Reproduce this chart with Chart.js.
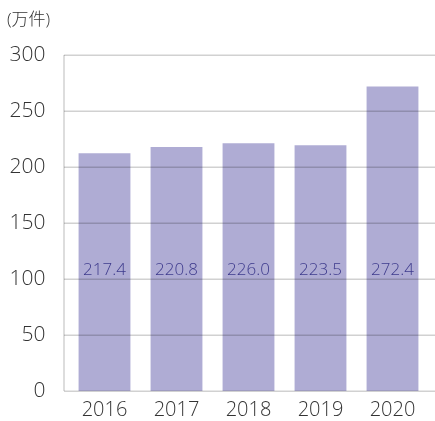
<!DOCTYPE html>
<html><head><meta charset="utf-8">
<script src="https://cdn.jsdelivr.net/npm/chart.js@4/dist/chart.umd.min.js"></script>
<style>html,body{margin:0;padding:0;background:#fff}#wrap{width:435px;height:421px;position:relative}</style>
</head><body><div id="wrap"><canvas id="c" width="435" height="421"></canvas></div>
<script>
const categories = ['2016', '2017', '2018', '2019', '2020'];
const barValues = [212.2, 217.8, 221.2, 219.4, 271.8];
const valueLabels = ['217.4', '220.8', '226.0', '223.5', '272.4'];
const yTicks = [0, 50, 100, 150, 200, 250, 300];
const unitLabel = '(万件)';
const labelLevel = 108;

const FONT = "'Open Sans', 'Noto Sans CJK JP', sans-serif";

const overlay = {
  id: 'overlay',
  afterDatasetsDraw(chart) {
    const ctx = chart.ctx, y = chart.scales.y;
    ctx.save();
    ctx.strokeStyle = 'rgba(0,0,0,0.18)';
    ctx.lineWidth = 1.5;
    yTicks.forEach(v => {
      const py = Math.round(y.getPixelForValue(v)) + 0.25;
      ctx.beginPath(); ctx.moveTo(64, py); ctx.lineTo(435, py); ctx.stroke();
    });
    ctx.beginPath(); ctx.moveTo(64, y.getPixelForValue(300)); ctx.lineTo(64, y.getPixelForValue(0)); ctx.stroke();
    ctx.fillStyle = '#3d3a8c';
    ctx.font = '300 17px ' + FONT;
    ctx.textAlign = 'center'; ctx.textBaseline = 'middle';
    const meta = chart.getDatasetMeta(0);
    meta.data.forEach((bar, i) => {
      ctx.fillText(valueLabels[i], bar.x, y.getPixelForValue(labelLevel));
    });
    ctx.fillStyle = '#333';
    ctx.font = '300 17px ' + FONT;
    ctx.textAlign = 'left'; ctx.textBaseline = 'middle';
    ctx.fillText(unitLabel, 7, 20);
    ctx.restore();
  }
};

new Chart(document.getElementById('c'), {
  type: 'bar',
  data: { labels: categories, datasets: [{ data: barValues, backgroundColor: '#afacd4', borderWidth: 0, barPercentage: 0.72, categoryPercentage: 1 }] },
  options: {
    responsive: false, animation: false,
    layout: { padding: { top: 55, right: 6.5, left: 0, bottom: 0 } },
    plugins: { legend: { display: false }, tooltip: { enabled: false } },
    scales: {
      x: {
        grid: { display: false, drawTicks: false },
        border: { display: false },
        ticks: { color: '#333', font: { family: FONT, size: 20, weight: '300' }, padding: 7, maxRotation: 0, autoSkip: false },
        afterFit(s) { s.height = 30; }
      },
      y: {
        min: 0, max: 300,
        afterBuildTicks(s) { s.ticks = yTicks.map(v => ({ value: v })); },
        grid: { display: false, drawTicks: false },
        border: { display: false },
        ticks: { color: '#333', font: { family: FONT, size: 21, weight: '300' }, padding: 23 },
        afterFit(s) { s.width = 68.5; s.paddingBottom = 0; s.paddingTop = 0; }
      }
    }
  },
  plugins: [overlay]
});
</script></body></html>
